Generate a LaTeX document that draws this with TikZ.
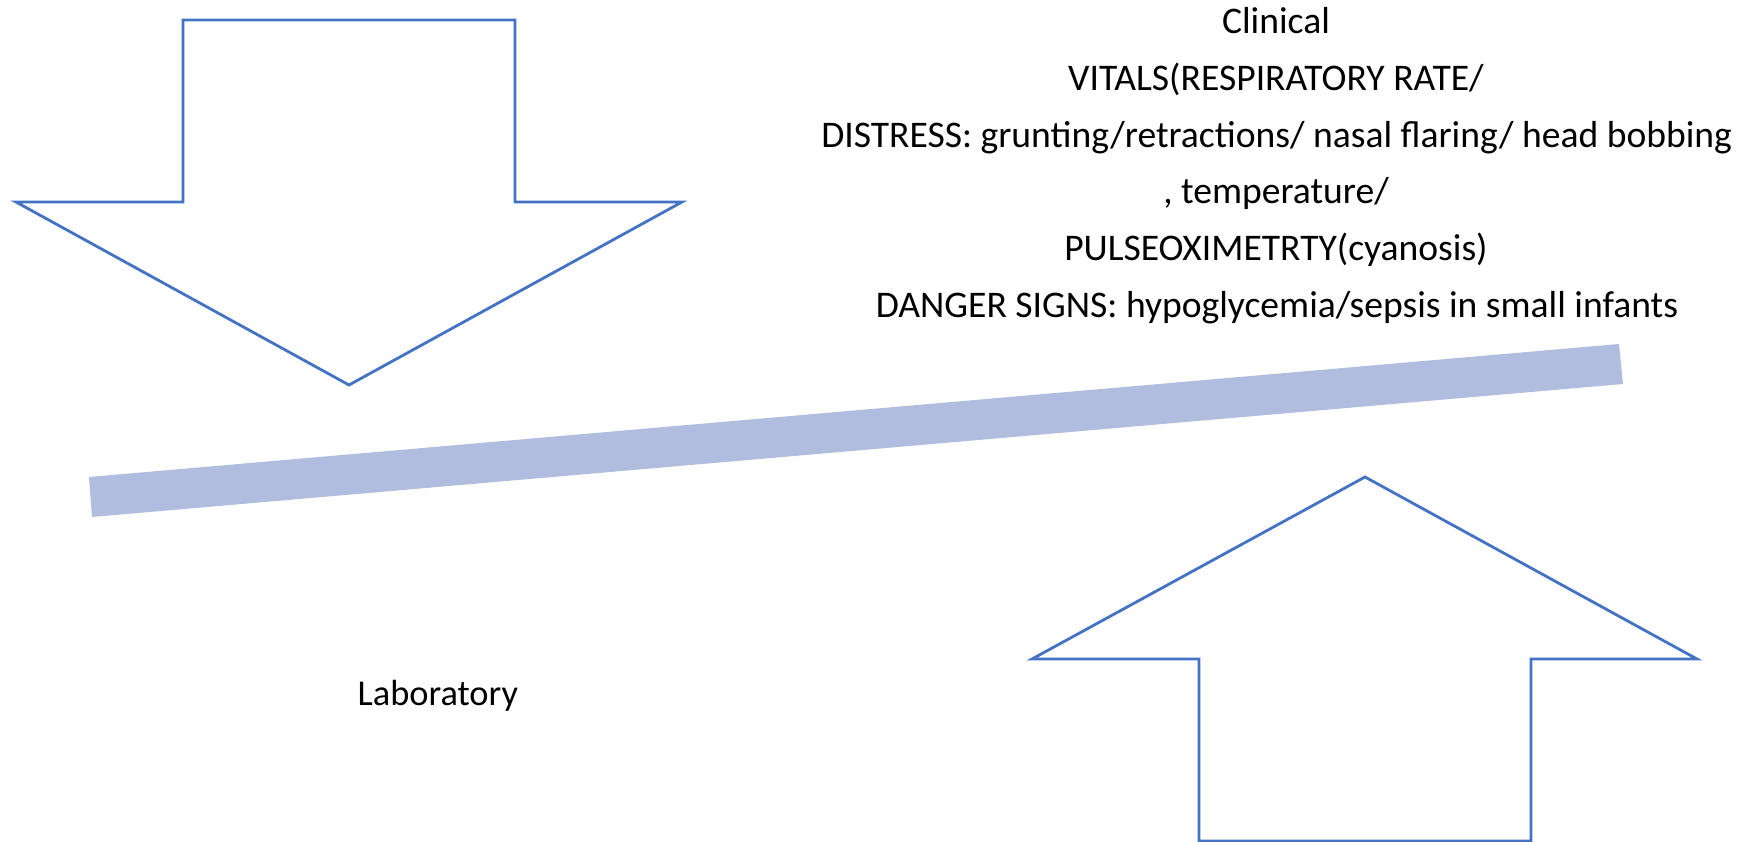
\documentclass[tikz,border=0pt]{standalone}
\usepackage{fontspec}
\setmainfont{Carlito}
\definecolor{arrowblue}{HTML}{4472C4}
\definecolor{beamfill}{HTML}{B0BDDE}
\begin{document}
\begin{tikzpicture}[x=1pt,y=-1pt,
  outline/.style={draw=arrowblue,line width=2.8pt,line join=miter,fill=white},
  beam/.style={fill=beamfill,draw=none},
  txt/.style={anchor=base,inner sep=0pt,font=\fontsize{37.6}{45}\selectfont,text=black},
  labtxt/.style={txt,font=\fontsize{36.4}{44}\selectfont}]
  % page frame
  \useasboundingbox[fill=white] (0,0) rectangle (1741,842);

  % downward block arrow (top left)
  \draw[outline] (183,20) -- (515,20) -- (515,202) -- (682,202) -- (349,385)
    -- (16,202) -- (183,202) -- cycle;

  % upward block arrow (bottom right)
  \draw[outline] (1365,477) -- (1697,659) -- (1531,659) -- (1531,841)
    -- (1199,841) -- (1199,659) -- (1032,659) -- cycle;

  % tilted balance beam
  \fill[beam] (89,477) -- (1619,344) -- (1623,384) -- (92,517) -- cycle;

  % clinical findings
  \node[txt] (cl1) at (1276,33.3) {Clinical};
  \node[txt] (cl2) at (1276,90.2) {VITALS(RESPIRATORY RATE/};
  \node[txt] (cl3) at (1276.7,147.1) {DISTRESS: grunting/retractions/ nasal flaring/ head bobbing};
  \node[txt] (cl4) at (1276,204) {, temperature/};
  \node[txt] (cl5) at (1276,260.9) {PULSEOXIMETRTY(cyanosis)};
  \node[txt] (cl6) at (1277,317.8) {DANGER SIGNS: hypoglycemia/sepsis in small infants};

  % laboratory side
  \node[labtxt] (lab) at (437.8,705) {Laboratory};
\end{tikzpicture}
\end{document}
